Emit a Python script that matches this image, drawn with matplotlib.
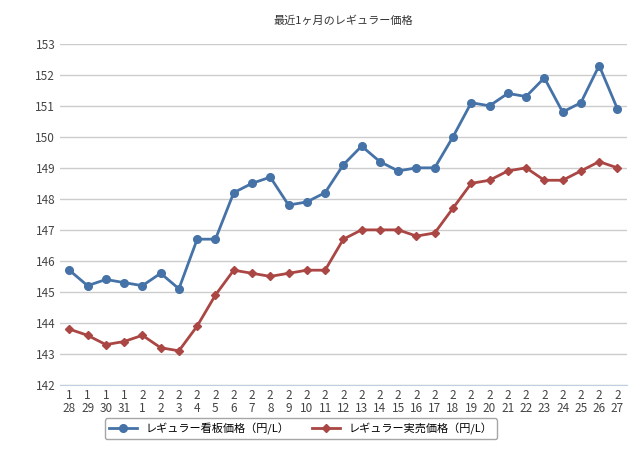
import matplotlib
matplotlib.use("Agg")
import matplotlib.pyplot as plt

plt.rcParams["font.family"] = ["Noto Sans CJK JP", "DejaVu Sans"]

months = [1]*4 + [2]*27
days = [28, 29, 30, 31] + list(range(1, 28))
tick_labels = [f"{m}\n{d}" for m, d in zip(months, days)]
signboard = [145.7,145.2,145.4,145.3,145.2,145.6,145.1,146.7,146.7,148.2,148.5,148.7,147.8,147.9,148.2,149.1,149.7,149.2,148.9,149.0,149.0,150.0,151.1,151.0,151.4,151.3,151.9,150.8,151.1,152.3,150.9]
actual = [143.8,143.6,143.3,143.4,143.6,143.2,143.1,143.9,144.9,145.7,145.6,145.5,145.6,145.7,145.7,146.7,147.0,147.0,147.0,146.8,146.9,147.7,148.5,148.6,148.9,149.0,148.6,148.6,148.9,149.2,149.0]

fig = plt.figure(figsize=(6.4, 4.61), dpi=100)
ax = fig.add_axes([0.094, 0.165, 0.885, 0.74])
x = list(range(len(days)))
ax.plot(x, signboard, color="#4572a7", lw=2, marker="o", ms=5.5, label="レギュラー看板価格（円/L）")
ax.plot(x, actual, color="#aa4643", lw=2, marker="D", ms=4, label="レギュラー実売価格（円/L）")
ax.set_ylim(142, 153)
ax.set_yticks(range(142, 154))
ax.set_xlim(-0.5, len(x) - 0.5)
ax.set_xticks(x)
ax.set_xticklabels(tick_labels, fontsize=8.5, color="#444444", linespacing=1.0)
ax.tick_params(axis="y", labelsize=8.5, colors="#444444", length=0)
ax.tick_params(axis="x", length=0, pad=3)
ax.grid(axis="y", color="#cccccc", lw=1)
for s in ["top", "right", "left"]:
    ax.spines[s].set_visible(False)
ax.spines["bottom"].set_color("#c0d0e0")
ax.set_title("最近1ヶ月のレギュラー価格", fontsize=8, color="#333333", pad=14)
leg = fig.legend(loc="lower center", bbox_to_anchor=(0.47, 0.035), ncol=2, fontsize=8,
                 frameon=True, edgecolor="#909090", fancybox=True, handlelength=2.5)
fig.savefig("out.png", dpi=100)
